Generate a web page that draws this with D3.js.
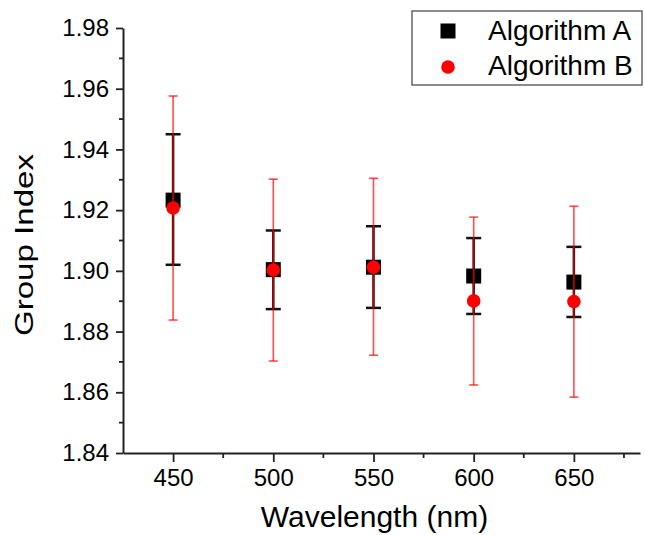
<!DOCTYPE html>
<html>
<head>
<meta charset="utf-8">
<script src="https://cdn.jsdelivr.net/npm/d3@7"></script>
<style>
  body { margin: 0; background: #fff; }
  text { font-family: "Liberation Sans", Arial, sans-serif; fill: #000; }
</style>
</head>
<body>
<div id="chart"></div>
<script>
// data
var wavelengths = [450, 500, 550, 600, 650];
var algoA = [1.9233, 1.9004, 1.9012, 1.8983, 1.8963];
var algoAlow = [1.9020, 1.8874, 1.8878, 1.8858, 1.8848];
var algoAhigh = [1.9450, 1.9133, 1.9147, 1.9108, 1.9079];
var algoB = [1.9207, 1.9003, 1.9012, 1.8901, 1.8899];
var algoBlow = [1.8838, 1.8703, 1.8722, 1.8624, 1.8584];
var algoBhigh = [1.9576, 1.9302, 1.9305, 1.9177, 1.9213];
var yTicks = [1.84, 1.86, 1.88, 1.90, 1.92, 1.94, 1.96, 1.98];
var yMinor = [1.85, 1.87, 1.89, 1.91, 1.93, 1.95, 1.97];
var xTicks = [450, 500, 550, 600, 650];
var xMinor = [475, 525, 575, 625, 675];

var W = 645, H = 535;
var margin = {top: 28, right: 5, bottom: 82, left: 123};
var width = W - margin.left - margin.right,
    height = H - margin.top - margin.bottom;

var svg = d3.select("#chart").append("svg")
    .attr("width", W)
    .attr("height", H)
  .append("g")
    .attr("transform", "translate(" + margin.left + "," + margin.top + ")");

var x = d3.scaleLinear().domain([425, 683]).range([0, width]);
var y = d3.scaleLinear().domain([1.84, 1.98]).range([height, 0]);

// X axis
var xAxis = svg.append("g")
    .attr("transform", "translate(0," + height + ")")
    .call(d3.axisBottom(x).tickValues(xTicks).tickFormat(d3.format("d")).tickSize(9).tickSizeOuter(0));
xAxis.append("g").selectAll("line")
    .data(xMinor)
  .enter().append("line")
    .attr("x1", function(d) { return x(d); })
    .attr("x2", function(d) { return x(d); })
    .attr("y1", 0).attr("y2", 5)
    .attr("stroke", "#222").attr("stroke-width", 1.8);

// Y axis
var yAxis = svg.append("g")
    .call(d3.axisLeft(y).tickValues(yTicks).tickFormat(d3.format(".2f")).tickSize(7).tickSizeOuter(0));
yAxis.append("g").selectAll("line")
    .data(yMinor)
  .enter().append("line")
    .attr("y1", function(d) { return y(d); })
    .attr("y2", function(d) { return y(d); })
    .attr("x1", 0).attr("x2", -4)
    .attr("stroke", "#222").attr("stroke-width", 1.8);

svg.selectAll(".domain").attr("stroke", "#222").attr("stroke-width", 2);
svg.selectAll(".tick line").attr("stroke", "#222").attr("stroke-width", 1.8);
svg.selectAll(".tick text").style("font-size", "24px");
xAxis.selectAll(".tick text").attr("y", 16);
yAxis.selectAll(".tick text").attr("x", -14);

// axis titles
svg.append("text")
    .attr("transform", "rotate(-90)")
    .attr("x", -217)
    .attr("y", -90)
    .attr("text-anchor", "middle")
    .attr("textLength", 182)
    .attr("lengthAdjust", "spacingAndGlyphs")
    .style("font-size", "25px")
    .text("Group Index");

svg.append("text")
    .attr("x", x(550) + 1)
    .attr("y", height + 74)
    .attr("text-anchor", "middle")
    .style("font-size", "30px")
    .text("Wavelength (nm)");

var idx = d3.range(wavelengths.length);

// Algorithm A squares
svg.selectAll(".sqA")
    .data(idx)
  .enter().append("rect")
    .attr("x", function(i) { return x(wavelengths[i]) - 7.5; })
    .attr("y", function(i) { return y(algoA[i]) - 7.5; })
    .attr("width", 15).attr("height", 15)
    .attr("fill", "#000");

// Algorithm A error bars
var errA = svg.selectAll(".errA").data(idx).enter().append("g");
errA.append("line")
    .attr("x1", function(i) { return x(wavelengths[i]); })
    .attr("x2", function(i) { return x(wavelengths[i]); })
    .attr("y1", function(i) { return y(algoAlow[i]); })
    .attr("y2", function(i) { return y(algoAhigh[i]); })
    .attr("stroke", "#111").attr("stroke-width", 2.5);
[algoAlow, algoAhigh].forEach(function(arr) {
  errA.append("line")
    .attr("x1", function(i) { return x(wavelengths[i]) - 7.5; })
    .attr("x2", function(i) { return x(wavelengths[i]) + 7.5; })
    .attr("y1", function(i) { return y(arr[i]); })
    .attr("y2", function(i) { return y(arr[i]); })
    .attr("stroke", "#111").attr("stroke-width", 2.5);
});

// Algorithm B error bars
var errB = svg.selectAll(".errB").data(idx).enter().append("g")
    .attr("stroke", "#f00").attr("stroke-opacity", 0.7).attr("stroke-width", 1.6);
errB.append("line")
    .attr("x1", function(i) { return x(wavelengths[i]); })
    .attr("x2", function(i) { return x(wavelengths[i]); })
    .attr("y1", function(i) { return y(algoBlow[i]); })
    .attr("y2", function(i) { return y(algoBhigh[i]); });
[algoBlow, algoBhigh].forEach(function(arr) {
  errB.append("line")
    .attr("x1", function(i) { return x(wavelengths[i]) - 4.5; })
    .attr("x2", function(i) { return x(wavelengths[i]) + 4.5; })
    .attr("y1", function(i) { return y(arr[i]); })
    .attr("y2", function(i) { return y(arr[i]); });
});

// Algorithm B circles
svg.selectAll(".dotB")
    .data(idx)
  .enter().append("circle")
    .attr("cx", function(i) { return x(wavelengths[i]); })
    .attr("cy", function(i) { return y(algoB[i]); })
    .attr("r", 6.8)
    .attr("fill", "#f00");

// legend
var leg = svg.append("g")
    .attr("transform", "translate(" + (412 - margin.left) + "," + (11 - margin.top) + ")");
leg.append("rect")
    .attr("width", 230).attr("height", 74)
    .attr("fill", "#fff")
    .attr("stroke", "#666").attr("stroke-width", 1.5);
leg.append("rect")
    .attr("x", 36 - 7.5).attr("y", 20 - 7.5)
    .attr("width", 15).attr("height", 15)
    .attr("fill", "#000");
leg.append("circle")
    .attr("cx", 36).attr("cy", 56).attr("r", 6.8)
    .attr("fill", "#f00");
leg.append("text").attr("x", 76).attr("y", 29)
    .style("font-size", "28px").text("Algorithm A");
leg.append("text").attr("x", 76).attr("y", 64)
    .style("font-size", "28px").text("Algorithm B");
</script>
</body>
</html>
